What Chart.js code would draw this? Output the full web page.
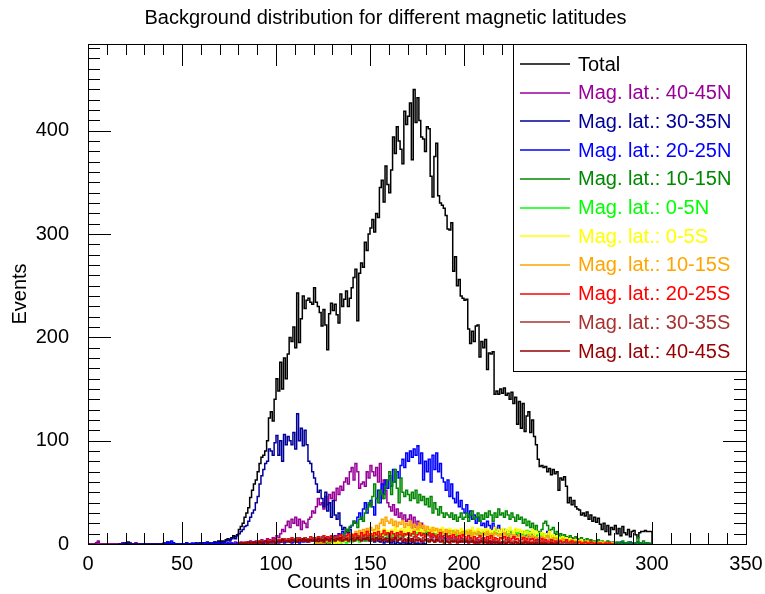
<!DOCTYPE html>
<html>
<head>
<meta charset="utf-8">
<title>Background distribution</title>
<script src="https://cdn.jsdelivr.net/npm/chart.js@4/dist/chart.umd.min.js"></script>
<style>
  html, body { margin: 0; padding: 0; background: #fff; }
  #wrap { width: 765px; height: 594px; }
</style>
</head>
<body>
<div id="wrap"><canvas id="bkg" width="765" height="594"></canvas></div>
<script>
// Background counts per 100 ms, one-count bins; each list starts at its own bin
const totalStart = 0;
const total = [
  0,0,0,0,1,2,0,0,0,0, 0,0,0,0,0,0,0,0,1,0, 1,2,1,0,0,1,0,0,0,0, 0,0,0,0,0,0,0,0,0,0,
  1,0,2,1,0,1,0,0,0,0, 0,0,1,0,0,0,0,1,0,1, 0,1,0,2,1,0,1,2,1,3, 2,3,2,4,5,4,6,8,7,9,
  14,17,20,26,30,35,45,52,58,62, 70,78,84,86,90,100,122,128,119,140,
  160,148,176,150,180,160,184,200,196,210, 190,243,195,218,240,228,236,238,234,232,
  248,234,230,224,211,227,212,188,223,233, 226,232,222,214,242,230,237,245,230,238,
  248,258,266,216,262,272,268,292,284,300, 306,314,302,320,316,345,352,331,366,348,
  340,362,394,378,404,390,382,368,419,406, 414,427,372,440,408,432,410,394,392,380,
  404,402,356,336,375,388,337,330,328,325, 318,305,304,311,264,278,250,256,240,238,
  236,237,208,194,206,196,211,212,181,196, 190,198,169,185,184,186,145,148,145,150,
  146,151,144,146,140,147,136,142,116,138, 112,136,109,124,128,108,120,104,96,82,
  75,76,74,75,70,73,67,72,68,70, 52,64,62,65,56,40,45,38,42,36,
  34,33,28,30,27,31,24,28,22,26, 21,25,19,14,20,12,18,9,16,14,
  18,10,15,8,17,11,9,14,7,12, 13,9,6,11,12,12,13,12,12,12
];

const start40N = 0;
const lat40N = [
  0,0,0,0,0,3,0,0,0,0, 0,0,0,0,0,0,0,0,1,0, 1,0,0,0,0,1,0,0,0,0, 0,0,0,0,0,0,0,0,0,0,
  0,0,1,0,0,0,0,0,0,0, 0,0,0,0,0,0,0,0,0,0, 0,0,0,1,0,0,0,0,1,0, 0,1,0,0,1,0,1,0,2,1,
  1,2,1,0,2,1,3,1,2,3, 2,3,4,2,3,5,4,3,6,5,
  8,6,10,14,12,18,22,16,24,20, 26,18,24,14,22,20,16,24,26,32,
  30,36,44,38,40,34,46,38,48,44, 50,42,54,48,56,52,60,64,58,70,
  74,62,78,70,54,58,60,56,70,64, 76,70,66,74,60,78,44,62,52,40,
  36,32,38,28,34,26,30,24,28,22, 24,28,16,26,14,22,16,20,12,10,
  12,8,10,6,9,7,5,8,4,6, 5,7,4,6,3,5,4,2,5,3,
  4,2,3,5,2,3,1,4,2,3, 2,3,1,2,0,3,1,2,1,0
];

const start30N = 16;
const lat30N = [
  0,0,0,1, 0,1,0,0,0,0,0,0,0,0, 0,0,0,0,0,0,0,0,0,0,
  0,1,0,1,0,1,0,0,0,0, 0,0,1,0,0,0,0,1,0,1, 0,1,0,1,1,0,1,2,1,2, 2,2,2,3,4,3,5,6,5,8,
  10,12,14,17,18,22,26,30,33,40, 46,58,66,72,78,80,92,90,86,98,
  105,86,100,80,106,96,104,100,96,108, 92,126,100,112,95,110,96,80,78,70,
  64,58,50,52,44,36,50,32,40,26, 42,28,24,30,18,14,16,12,11,14,
  8,6,9,5,7,4,6,3,5,4, 3,4,2,5,3,2,4,1,3,2,
  2,1,3,0,2,1,0,2,1,0, 1,0,2,1,0,1,0,0,1,0
];

const start20N = 40;
const lat20N = [
  0,0,2,0,3,0,0,0,0,0, 0,0,0,0,0,1,0,0,0,0, 0,0,1,0,0,0,1,0,0,1, 0,1,0,0,1,0,1,0,0,1,
  1,0,1,1,0,1,0,2,1,0, 1,2,1,0,2,1,2,1,3,1,
  2,1,2,3,1,2,3,2,1,2, 3,2,1,3,2,4,2,3,4,3,
  3,4,2,5,4,3,6,4,5,7, 6,8,7,10,9,12,10,14,12,16,
  18,22,20,26,30,24,34,40,30,38, 42,36,28,44,52,40,58,48,62,54,
  66,56,72,60,70,64,76,82,74,88, 80,90,84,92,86,95,78,88,62,80,
  70,82,60,86,72,88,70,78,64,60, 52,62,46,58,44,40,50,36,42,34,
  30,38,26,32,24,28,20,26,22,18, 20,16,22,18,14,20,16,12,18,14,
  10,14,12,8,12,10,6,11,8,10, 8,12,6,10,7,5,9,6,8,4,
  6,10,4,8,12,5,7,4,9,6, 3,5,7,4,2,6,3,5,2,4,
  3,2,4,1,3,2,1,3,2,1, 1,0,2,1,0,1,0,0,1,0,
  0,1,0,2,1,0,1,0,2,1, 0,1,2,0,1,0,0,1,0,0
];

const start10N = 120;
const lat10N = [
  0,1,0,1,2,1,0,2,1,2, 3,2,4,5,6,8,10,14,12,17,
  18,22,20,16,24,26,22,30,34,40, 36,46,58,44,40,52,48,44,56,62,
  70,48,60,72,54,40,64,50,46,52, 48,42,50,44,52,40,48,42,46,38,
  44,36,46,30,40,34,28,36,30,26, 30,28,26,30,24,28,22,26,30,24,
  26,30,22,28,32,24,26,30,22,28, 24,30,26,32,28,22,30,26,34,28,
  30,26,32,28,24,30,26,22,28,24, 26,20,24,18,22,16,20,14,18,12,
  10,14,20,22,18,12,14,16,10,12, 8,10,6,9,7,5,8,6,4,7,
  5,3,6,4,2,5,3,4,2,3, 2,4,1,3,2,1,3,2,1,2,
  1,2,0,1,3,1,0,2,1,0, 1,0,6,1,0,3,1,0,1,0
];

const start0N = 130;
const lat0N = [
  0,1,0,2,1,2,3,1,2,3, 2,4,3,5,2,4,6,3,5,7,
  4,6,8,5,7,9,6,8,10,7, 9,6,10,8,11,7,9,12,8,10,
  11,8,13,9,12,10,14,9,11,8, 12,9,11,13,8,10,12,9,11,10,
  8,12,10,9,13,11,8,10,12,9, 10,13,9,11,8,12,10,9,11,8,
  12,9,10,8,11,9,12,10,8,11, 9,12,10,8,13,11,9,14,10,12,
  8,11,9,13,10,12,8,10,7,9, 11,8,10,7,9,6,8,5,7,6,
  5,7,4,6,3,5,4,2,4,3, 2,3,1,2,3,1,2,1,0,2,
  1,0,1,2,0,1,0,1,0,0
];

const start0S = 130;
const lat0S = [
  1,0,2,1,3,2,4,3,5,4, 6,4,7,9,5,8,10,7,12,9,
  11,8,13,10,14,12,9,15,11,13, 10,14,12,16,11,13,15,10,14,12,
  16,11,13,15,12,17,10,14,12,15, 13,16,11,14,12,15,10,13,16,12,
  14,11,15,12,10,14,13,11,15,12, 13,10,14,12,16,11,13,15,12,14,
  11,15,12,14,10,13,16,12,14,11, 15,12,14,11,16,13,10,15,12,14,
  11,13,10,12,9,11,14,8,12,10, 9,11,7,10,8,12,6,9,7,8,
  6,5,7,4,6,3,5,4,2,4, 3,2,4,1,2,3,1,2,0,1,
  1,0,2,1,0,1,0,0,1,0
];

const start10S = 120;
const lat10S = [
  0,1,0,1,2,1,2,3,2,3, 4,3,5,4,6,8,5,7,9,6,
  10,8,12,9,13,11,14,10,15,12, 16,13,14,18,15,20,24,18,26,22,
  20,24,18,22,17,21,19,23,16,20, 18,22,15,19,17,14,20,16,18,13,
  17,14,12,16,13,15,11,14,12,10, 14,11,13,9,12,10,13,8,11,12,
  9,12,10,13,8,11,9,12,10,8, 11,9,12,8,10,7,11,9,8,10,
  8,11,7,9,10,6,9,8,7,9, 6,8,5,7,9,6,8,5,7,6,
  5,7,4,6,8,5,4,6,3,5, 4,3,5,2,4,3,2,4,1,3,
  2,3,1,2,1,3,0,1,2,1, 1,0,1,0,2,0,1,0,0,1
];

const start20S = 85;
const lat20S = [
  1,2,1,2,1, 2,3,2,3,2,4,3,2,4,3,
  3,4,3,5,4,3,5,4,6,4, 5,4,6,5,3,6,4,5,7,5,
  6,4,7,5,6,8,5,7,6,8, 7,5,8,6,9,7,6,8,10,7,
  9,6,10,8,7,11,8,9,12,8, 10,8,11,9,12,7,10,13,9,11,
  8,12,10,7,11,9,12,8,10,9, 11,8,10,12,7,9,11,8,10,7,
  9,11,7,10,8,6,9,11,7,8, 10,7,8,6,9,7,5,8,6,9,
  7,5,8,6,4,7,5,6,8,5, 6,4,7,5,8,4,6,5,3,6,
  5,7,4,6,3,5,7,4,5,3, 4,6,3,5,2,4,5,3,4,2,
  3,5,2,4,3,2,4,1,3,2, 2,3,1,2,4,1,2,3,1,2,
  1,2,0,1,2,1,0,2,1,0, 1,0,1,0,0,1,0,1,0,0
];

const start30S = 80;
const lat30S = [
  1,0,1,2,1,1,2,1,2,1, 2,1,3,2,2,3,1,3,2,4,
  3,2,4,3,5,3,4,2,5,3, 4,6,3,5,4,6,3,5,4,6,
  5,3,6,4,7,5,4,6,3,5, 6,4,7,5,3,6,8,4,6,5,
  7,5,6,8,4,6,7,5,8,6, 5,7,4,6,8,5,7,4,6,5,
  7,4,6,5,8,4,6,7,5,4, 6,5,3,7,4,6,5,3,6,4,
  5,3,6,4,2,5,4,6,3,5, 4,2,5,3,4,6,3,4,2,5,
  3,4,2,5,3,2,4,3,1,4, 3,2,4,1,3,2,4,2,3,1,
  2,3,1,4,2,1,3,2,1,3, 2,1,3,1,2,0,2,1,3,1,
  1,2,0,2,1,1,2,0,1,2, 1,0,1,2,0,1,0,1,0,1
];

const start40S = 80;
const lat40S = [
  0,1,1,0,1,2,1,1,2,1, 1,2,1,2,3,1,2,2,3,1,
  2,3,2,4,2,3,3,2,4,3, 3,2,4,3,5,3,4,2,4,3,
  4,3,5,3,4,2,5,4,3,5, 4,3,5,4,6,3,4,5,3,4,
  5,3,4,6,4,3,5,4,6,3, 4,5,3,6,4,5,3,4,5,3,
  5,3,4,6,3,4,5,3,4,2, 4,3,5,2,4,3,4,2,3,4,
  3,2,4,3,2,4,3,2,3,1, 3,2,1,3,2,3,1,2,3,2,
  2,3,1,2,3,1,2,1,2,3, 1,2,1,3,1,2,1,2,0,1,
  2,1,0,2,1,1,0,2,1,0, 1,0,2,1,0,1,1,0,1,0,
  0,1,0,1,0,0,1,0,0,1
];

const seriesLabels = [
  'Total',
  'Mag. lat.: 40-45N', 'Mag. lat.: 30-35N', 'Mag. lat.: 20-25N', 'Mag. lat.: 10-15N', 'Mag. lat.: 0-5N',
  'Mag. lat.: 0-5S', 'Mag. lat.: 10-15S', 'Mag. lat.: 20-25S', 'Mag. lat.: 30-35S', 'Mag. lat.: 40-45S'
];
const seriesCounts = [total, lat40N, lat30N, lat20N, lat10N, lat0N, lat0S, lat10S, lat20S, lat30S, lat40S];
const seriesStarts = [totalStart, start40N, start30N, start20N, start10N, start0N, start0S, start10S, start20S, start30S, start40S];
const seriesColors = [
  '#000000', '#990099', '#000099', '#0000ff', '#008800', '#00ff00',
  '#ffff00', '#ffa500', '#ff0000', '#a83232', '#990000'
];
const chartTitle = 'Background distribution for different magnetic latitudes';

const FONT = "'Liberation Sans', Helvetica, Arial, sans-serif";
Chart.defaults.font.family = FONT;
Chart.defaults.color = '#000';

// histogram outline: one point per bin left edge, closed to zero at both ends
function histPoints(start, counts) {
  const pts = [{ x: start, y: 0 }];
  counts.forEach((c, i) => pts.push({ x: start + i, y: c }));
  pts.push({ x: start + counts.length, y: 0 });
  return pts;
}

const datasets = seriesLabels.map((label, i) => ({
  label,
  data: histPoints(seriesStarts[i], seriesCounts[i]),
  borderColor: seriesColors[i],
  borderWidth: 1.5,
  stepped: 'before',
  pointRadius: 0,
  fill: false,
  order: seriesLabels.length - 1 - i   // Total underneath, last latitude on top
}));

// page title, centred on the whole canvas
const pageTitle = {
  id: 'pageTitle',
  afterDraw(chart) {
    const ctx = chart.ctx;
    ctx.save();
    ctx.font = '20px ' + FONT;
    ctx.fillStyle = '#000';
    ctx.textAlign = 'center';
    ctx.textBaseline = 'middle';
    ctx.fillText(chartTitle, chart.width / 2 + 3, 18);
    ctx.restore();
  }
};

// frame with inward ticks on all four sides
const frameTicks = {
  id: 'frameTicks',
  afterDatasetsDraw(chart) {
    const { ctx, chartArea: a, scales: { x, y } } = chart;
    ctx.save();
    ctx.strokeStyle = '#000';
    ctx.lineWidth = 1;
    ctx.beginPath();
    for (let v = x.min; v <= x.max; v += 10) {
      const px = Math.round(x.getPixelForValue(v)) + 0.5;
      const len = v % 50 === 0 ? 22 : 11;
      ctx.moveTo(px, a.bottom); ctx.lineTo(px, a.bottom - len);
      ctx.moveTo(px, a.top); ctx.lineTo(px, a.top + len);
    }
    for (let v = 0; v <= y.max; v += 10) {
      const py = Math.round(y.getPixelForValue(v)) + 0.5;
      const len = v % 100 === 0 ? 23 : 12;
      ctx.moveTo(a.left, py); ctx.lineTo(a.left + len, py);
      ctx.moveTo(a.right, py); ctx.lineTo(a.right - len, py);
    }
    ctx.stroke();
    ctx.strokeRect(Math.round(a.left) + 0.5, Math.round(a.top) + 0.5,
                   Math.round(a.right - a.left), Math.round(a.bottom - a.top));
    ctx.restore();
  }
};

// boxed legend in the upper right corner, text in the line colour
const boxLegend = {
  id: 'boxLegend',
  afterDraw(chart) {
    const { ctx, chartArea: a } = chart;
    const left = Math.round(a.right) - 233;
    const top = Math.round(a.top);
    const w = Math.round(a.right) - left;
    const h = 327;
    ctx.save();
    ctx.fillStyle = '#fff';
    ctx.fillRect(left, top, w, h);
    ctx.strokeStyle = '#000';
    ctx.lineWidth = 1;
    ctx.strokeRect(left + 0.5, top + 0.5, w, h);
    ctx.font = '20px ' + FONT;
    ctx.textBaseline = 'middle';
    ctx.textAlign = 'left';
    chart.data.datasets.forEach((ds, i) => {
      const yy = top + 20 + i * 28.7;
      ctx.strokeStyle = ds.borderColor;
      ctx.lineWidth = 1.5;
      ctx.beginPath();
      ctx.moveTo(left + 7, Math.round(yy));
      ctx.lineTo(left + 57, Math.round(yy));
      ctx.stroke();
      ctx.fillStyle = ds.borderColor;
      ctx.fillText(ds.label, left + 65, yy + 1);
    });
    ctx.restore();
  }
};

new Chart(document.getElementById('bkg'), {
  type: 'line',
  data: { datasets },
  options: {
    responsive: false,
    animation: false,
    parsing: false,
    normalized: true,
    events: [],
    layout: { padding: { top: 44, right: 19, bottom: 0, left: 0 } },
    plugins: {
      legend: { display: false },
      tooltip: { enabled: false },
      title: { display: false }
    },
    scales: {
      x: {
        type: 'linear',
        min: 0,
        max: 350,
        grid: { display: false },
        border: { display: false },
        ticks: { stepSize: 50, includeBounds: false, maxRotation: 0, font: { size: 20 }, color: '#000', padding: 0 },
        title: { display: true, text: 'Counts in 100ms background', color: '#000', font: { size: 20 }, padding: { top: 0, bottom: 0 } },
        afterFit: (s) => { s.height = 50; }
      },
      y: {
        type: 'linear',
        min: 0,
        max: 484,
        grid: { display: false },
        border: { display: false },
        ticks: { stepSize: 100, includeBounds: false, font: { size: 20 }, color: '#000', padding: 11 },
        title: { display: true, text: 'Events', color: '#000', font: { size: 20 }, padding: { top: 8, bottom: 0 } },
        afterFit: (s) => { s.width = 88; }
      }
    }
  },
  plugins: [frameTicks, boxLegend, pageTitle]
});
</script>
</body>
</html>
